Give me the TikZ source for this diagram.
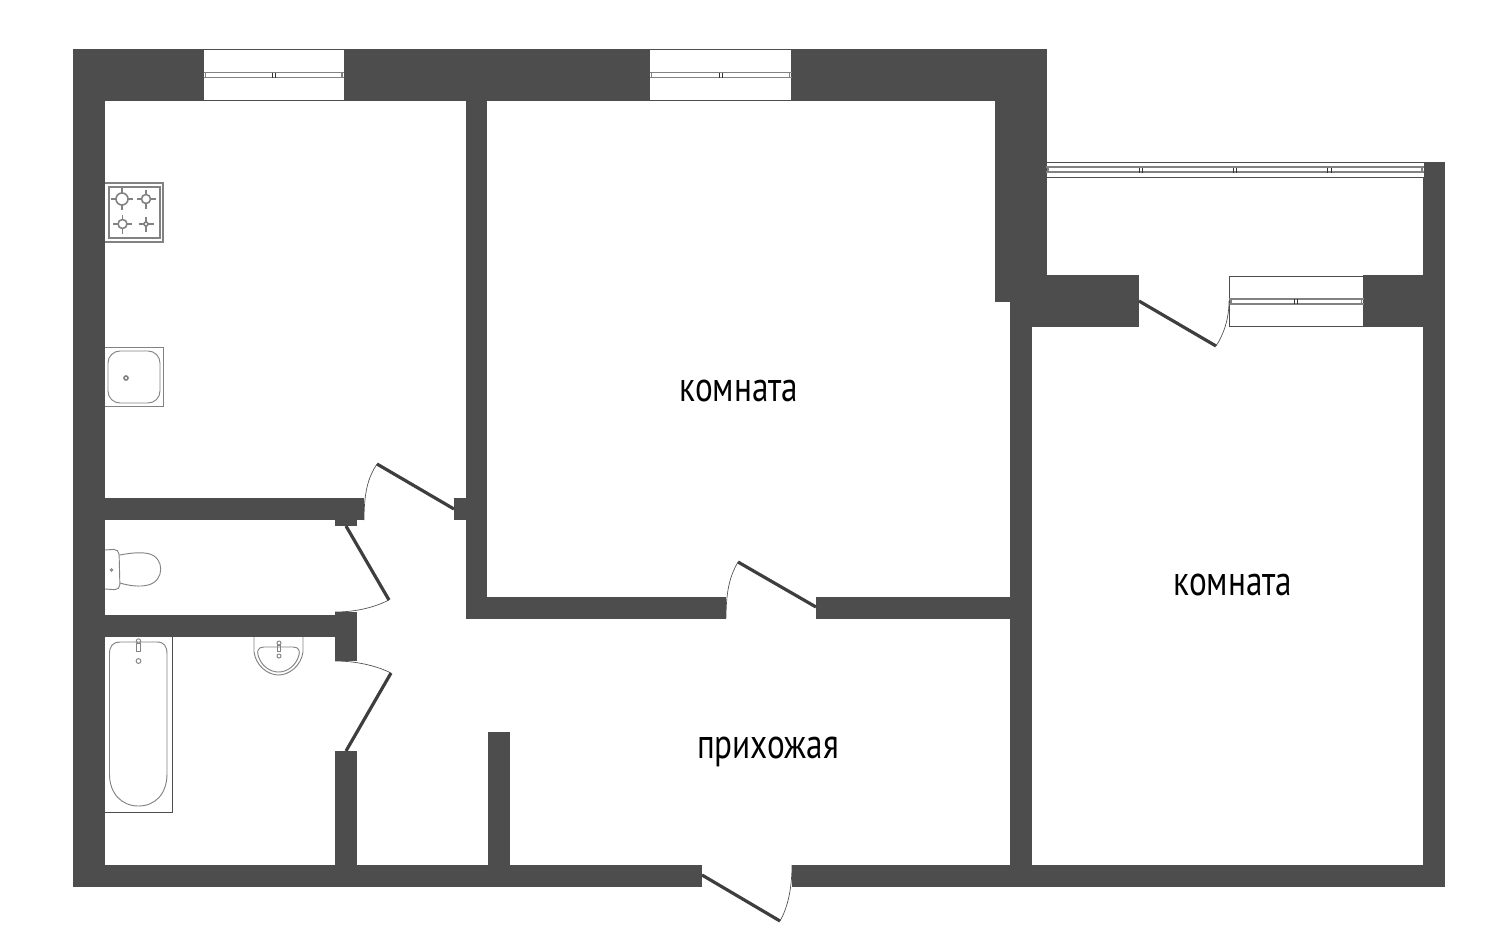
\documentclass[tikz,border=0pt]{standalone}
\usepackage{xcolor}
\usepackage{graphicx}
\usepackage{fontspec}
\setmainfont{PT Sans}
\definecolor{wallgray}{RGB}{77,77,77}
\definecolor{framegray}{RGB}{130,130,130}
\newcommand{\roomtext}[1]{\scalebox{0.79}[1]{#1}}
\tikzset{
  wall/.style={fill=wallgray,draw=none},
  doorleaf/.style={draw=wallgray!80!black,line width=2.4pt},
  doorswing/.style={draw=wallgray,line width=0.5pt},
  winframe/.style={draw=wallgray,fill=white,line width=0.7pt},
  winbar/.style={draw=framegray,line width=1.3pt},
  winstop/.style={draw=black!80,line width=0.6pt},
  fixture/.style={draw=framegray,line width=0.7pt},
  burner/.style={draw=framegray,line width=1.2pt},
  roomlabel/.style={anchor=base,inner sep=0.75pt,font=\fontsize{31.5}{36}\selectfont,text=black}
}
\begin{document}
\begin{tikzpicture}[x=0.75pt,y=0.75pt,yscale=-1,xscale=1]
    \useasboundingbox (0,0) rectangle (1494,936);

    %Shape: Walls outer
    \fill [wall] (73,49) rectangle (1047,100.5);
    \fill [wall] (73,49) rectangle (105,886.5);
    \fill [wall] (73,865) rectangle (702,886.5);
    \fill [wall] (792,865) rectangle (1445,886.5);
    \fill [wall] (995,100) rectangle (1047,302);
    \fill [wall] (1010,275) rectangle (1139,327);
    \fill [wall] (1010,302) rectangle (1032,865);
    \fill [wall] (1363,275) rectangle (1445,327);
    \fill [wall] (1423,162) rectangle (1445,886.5);
    %Shape: Walls inner
    \fill [wall] (466,100) rectangle (487,618.5);
    \fill [wall] (466,597) rectangle (726,618.5);
    \fill [wall] (816,597) rectangle (1010,618.5);
    \fill [wall] (454,498) rectangle (466,520);
    \fill [wall] (105,498) rectangle (364,520);
    \fill [wall] (335,520) rectangle (357,526);
    \fill [wall] (105,615) rectangle (335,637);
    \fill [wall] (335,612) rectangle (357,661);
    \fill [wall] (335,751) rectangle (357,865);
    \fill [wall] (488,732) rectangle (510,865);

    %Shape: Windows
    \foreach \xa/\xb/\ya/\yb in {203.5/344/49.5/100.5, 649.5/791.5/49.5/100.5, 1229/1363.5/276/326.5, 1046/1424/162.5/177}{
      \draw [winframe] (\xa,\ya) rectangle (\xb,\yb);
      \draw [winbar] (\xa,{(\ya+\yb)/2-2.5}) -- (\xb,{(\ya+\yb)/2-2.5});
      \draw [winbar] (\xa,{(\ya+\yb)/2+2.5}) -- (\xb,{(\ya+\yb)/2+2.5});
      \draw [winbar] (\xa+2,{(\ya+\yb)/2-2.5}) -- (\xa+2,{(\ya+\yb)/2+2.5});
      \draw [winbar] (\xb-2,{(\ya+\yb)/2-2.5}) -- (\xb-2,{(\ya+\yb)/2+2.5});
    }
    \foreach \xs/\ym in {272/75, 275.5/75, 719/75, 722.5/75, 1294/301, 1297.5/301, 1139/170, 1142.5/170, 1233/170, 1236.5/170, 1327.5/170, 1331/170}{
      \draw [winstop] (\xs,\ym-2.5) -- (\xs,\ym+2.5);
    }

    %Straight Lines: door leaves
    \draw [doorleaf] (454,509) -- (377,464);
    \draw [doorleaf] (346,526) -- (389,600);
    \draw [doorleaf] (346,751) -- (391,673);
    \draw [doorleaf] (816,607) -- (738,562);
    \draw [doorleaf] (702,875) -- (780,921);
    \draw [doorleaf] (1139,301) -- (1216,346);
    %Shape: Arc door swings
    \draw [doorswing] (377,464) .. controls (369,476) and (364,490) .. (364,520);
    \draw [doorswing] (389,600) .. controls (375,607) and (357,612) .. (335,612);
    \draw [doorswing] (391,673) .. controls (377,666) and (357,661) .. (335,661);
    \draw [doorswing] (738,562) .. controls (731,574) and (726,588) .. (726,618);
    \draw [doorswing] (780,921) .. controls (787,909) and (792,890) .. (792,865);
    \draw [doorswing] (1216,346) .. controls (1224,334) and (1229,318) .. (1229,301);

    %Shape: Hob
    \draw [fixture,line width=0.9pt] (105,183) -- (163,183) -- (163,242) -- (105,242);
    \draw [fixture,line width=0.9pt] (109,187) rectangle (160,238);
    \foreach \cx/\cy/\rad/\arm in {122/199/6/11, 146/199/4.5/9.5, 122.5/224/4.5/9.5, 146/224/2/7.5}{
      \draw [burner] (\cx,\cy) circle [radius=\rad];
      \draw [burner] (\cx-\arm,\cy) -- (\cx-\rad,\cy) (\cx+\rad,\cy) -- (\cx+\arm,\cy);
      \draw [burner] (\cx,\cy-\arm) -- (\cx,\cy-\rad) (\cx,\cy+\rad) -- (\cx,\cy+\arm);
    }
    %Shape: Kitchen sink
    \draw [fixture] (105,347) -- (163,347) -- (163,406) -- (105,406);
    \draw [fixture,rounded corners=9pt] (108,351) rectangle (160,403);
    \draw [burner] (126,378) circle [radius=2];

    %Shape: Toilet
    \draw [fixture] (120,555) .. controls (130,553) and (140,552) .. (148,553.5) .. controls (165,557) and (165,581) .. (148,585) .. controls (140,587) and (130,586) .. (120,583);
    \draw [fixture,fill=white,rounded corners=4pt] (105,550) -- (119,549) -- (120,590) -- (105,589);
    \draw [fixture] (111.5,570) circle [radius=1.3];

    %Shape: Bath
    \draw [fixture,draw=wallgray] (172,637) -- (172,812) -- (105,812);
    \draw [fixture] (109.5,654) .. controls (109.5,646) and (113,642) .. (120,642) -- (157,642) .. controls (164,642) and (167,646) .. (167,654) -- (167,774) .. controls (167,794) and (155,806) .. (138.5,806) .. controls (122,806) and (109.5,794) .. (109.5,774) -- cycle;
    \draw [fixture] (138.5,641) circle [radius=2.2];
    \draw [fixture] (136.5,643) rectangle (140.5,651);
    \draw [fixture] (138.5,661) circle [radius=2.4];

    %Shape: Basin
    \draw [fixture] (254,637) -- (254,652) .. controls (256,666) and (268,675) .. (278.5,675) .. controls (289,675) and (301,666) .. (303,652) -- (303,637);
    \draw [fixture] (264,647) -- (293,647) .. controls (299,647) and (300,651) .. (299,655) .. controls (296,666) and (287,672) .. (278.5,672) .. controls (270,672) and (261,666) .. (258,655) .. controls (257,651) and (258,647) .. (264,647) -- cycle;
    \draw [fixture] (279,643) circle [radius=2];
    \draw [fixture] (277.5,645) rectangle (280.5,651);
    \draw [fixture] (279,656) circle [radius=2];

    % Text Node
    \node [roomlabel] (room1) at (739,401) {\roomtext{комната}};
    % Text Node
    \node [roomlabel] (room2) at (1233,595) {\roomtext{комната}};
    % Text Node
    \node [roomlabel] (hall) at (768,758) {\roomtext{прихожая}};
\end{tikzpicture}
\end{document}
